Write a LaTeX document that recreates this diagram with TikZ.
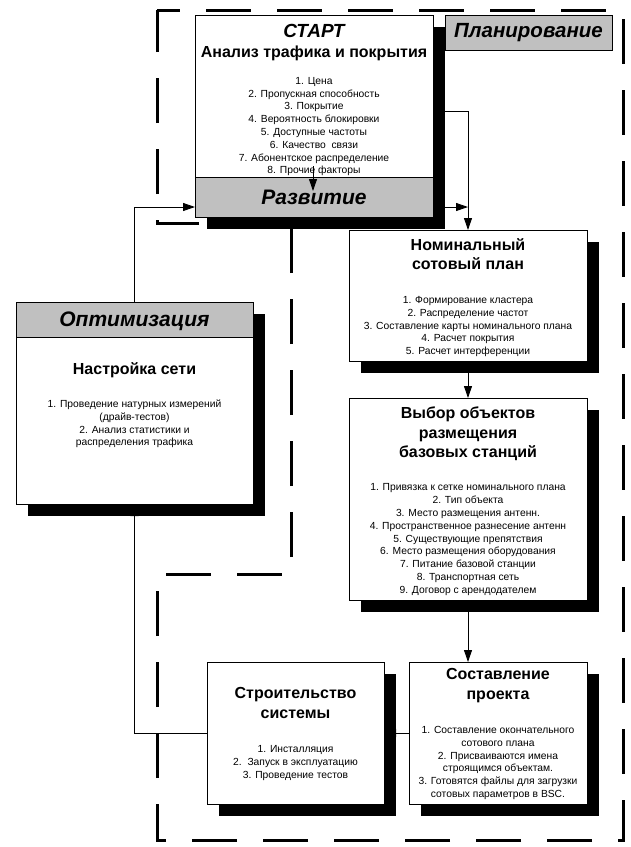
\documentclass[tikz,border=0pt]{standalone}
\usepackage{fontspec}
\setmainfont{Liberation Sans}
\usetikzlibrary{arrows.meta,shadows,backgrounds}
\definecolor{boxgray}{HTML}{C0C0C0}
\newcommand\tlh[1]{\rule{0pt}{#1}}
\begin{document}
\begin{tikzpicture}[x=1pt,y=-1pt,
  box/.style={draw, line width=0.9pt, fill=white, anchor=north west, inner sep=0pt, outer sep=0pt},
  shad/.style={drop shadow={shadow xshift=12pt, shadow yshift=-12pt, opacity=1, fill=black}},
  hdr/.style={box, fill=boxgray},
  bigit/.style={font=\fontsize{21}{24}\selectfont\bfseries\itshape, anchor=base, inner sep=0pt},
  ttl/.style={font=\fontsize{16}{19.5}\selectfont\bfseries, align=center, anchor=north, inner sep=0pt},
  ttlone/.style={font=\fontsize{16}{19.5}\selectfont\bfseries, anchor=base, inner sep=0pt},
  items/.style={font=\fontsize{10.3}{12.8}\selectfont, align=center, anchor=north, inner sep=0pt},
  conn/.style={line width=0.9pt, -{Triangle[length=12pt,width=8pt]}},
  bound/.style={line width=3pt, dash pattern=on 45pt off 26pt, dash phase=22pt}
]
\path[use as bounding box] (0,0) rectangle (631,847);

% ---- boxes ----
\node[box, shad, minimum width=238pt, minimum height=202pt] (start) at (195,15) {};
\node[hdr, minimum width=238pt, minimum height=40pt] (razv) at (195,177) {};
\node[hdr, minimum width=167pt, minimum height=35pt] (plan) at (445,15) {};

\node[box, shad, minimum width=237pt, minimum height=202pt] (opt) at (16,302) {};
\node[hdr, minimum width=237pt, minimum height=35pt] (optH) at (16,302) {};

\node[box, shad, minimum width=238pt, minimum height=131pt] (nom) at (349,230) {};
\node[box, shad, minimum width=238pt, minimum height=202pt] (vyb) at (349,398) {};
\node[box, shad, minimum width=178pt, minimum height=142pt] (sost) at (409,662) {};
\node[box, shad, minimum width=177pt, minimum height=142pt] (stroi) at (207,662) {};

% ---- texts ----
\node[bigit, font=\fontsize{19}{23}\selectfont\bfseries\itshape] (startT) at (314,37.5) {СТАРТ};
\node[ttlone] (startS) at (314,57.3) {Анализ трафика и покрытия};
\node[items] (startL) at (314,74) {\tlh{10pt}1. Цена\\2. Пропускная способность\\3. Покрытие\\4. Вероятность блокировки\\5. Доступные частоты\\6. Качество\ \ связи\\7. Абонентское распределение\\8. Прочие факторы};
\node[bigit] (razvT) at (314,204) {Развитие};
\node[bigit, font=\fontsize{20.5}{24}\selectfont\bfseries\itshape] (planT) at (528.5,37.3) {Планирование};

\node[bigit] (optT) at (134.5,326) {Оптимизация};
\node[ttlone] (optS) at (134.5,374) {Настройка сети};
\node[items] (optL) at (134.5,397.3) {\tlh{10pt}1. Проведение натурных измерений\\(драйв-тестов)\\2. Анализ статистики и\\распределения трафика};

\node[ttl] (nomT) at (468,234) {\tlh{16pt}Номинальный\\сотовый план};
\node[items] (nomL) at (468,293.3) {\tlh{10pt}1. Формирование кластера\\2. Распределение частот\\3. Составление карты номинального плана\\4. Расчет покрытия\\5. Расчет интерференции};

\node[ttl] (vybT) at (468,402.3) {\tlh{16pt}Выбор объектов\\размещения\\базовых станций};
\node[items] (vybL) at (468,480.7) {\tlh{10pt}1. Привязка к сетке номинального плана\\2. Тип объекта\\3. Место размещения антенн.\\4. Пространственное разнесение антенн\\5. Существующие препятствия\\6. Место размещения оборудования\\7. Питание базовой станции\\8. Транспортная сеть\\9. Договор с арендодателем};

\node[ttl] (sostT) at (498,663.3) {\tlh{16pt}Составление\\проекта};
\node[items] (sostL) at (498,723.3) {\tlh{10pt}1. Составление окончательного\\сотового плана\\2. Присваиваются имена\\строящимся объектам.\\3. Готовятся файлы для загрузки\\сотовых параметров в BSC.};

\node[ttl] (stroiT) at (295.5,682.3) {\tlh{16pt}Строительство\\системы};
\node[items] (stroiL) at (295.5,742.3) {\tlh{10pt}1. Инсталляция\\2.\ \ Запуск в эксплуатацию\\3. Проведение тестов};

% ---- connectors (behind boxes and shadows) ----
\coordinate (j1) at (468,111);
\coordinate (a1) at (313,166);
\coordinate (a2) at (313,191);
\begin{scope}[on background layer]
  \fill[white] (0,0) rectangle (631,847);
  \draw[conn] (start.east |- j1) -- (j1) -- (nom.north);
  \draw[conn] ([yshift=-10pt]razv.east) -- ([yshift=-10pt]razv.east -| nom.north);
  \draw[conn] (optH.north) |- ([yshift=-10pt]razv.west);
  \draw[conn] (nom.south) -- (vyb.north);
  \draw[conn] (vyb.south) -- (vyb.south |- sost.north);
  \draw[conn] (sost.west) -- (stroi.east);
  \draw[conn] (stroi.west) -| (opt.south);
\end{scope}
\draw[conn] (a1) -- (a2);

% ---- dashed boundary of the planning area ----
\draw[bound] (157,10) -- (623,10) -- (623,840) -- (157,840) -- (157,574) -- (291,574) -- (291,223) -- (157,223) -- cycle;
\end{tikzpicture}
\end{document}
